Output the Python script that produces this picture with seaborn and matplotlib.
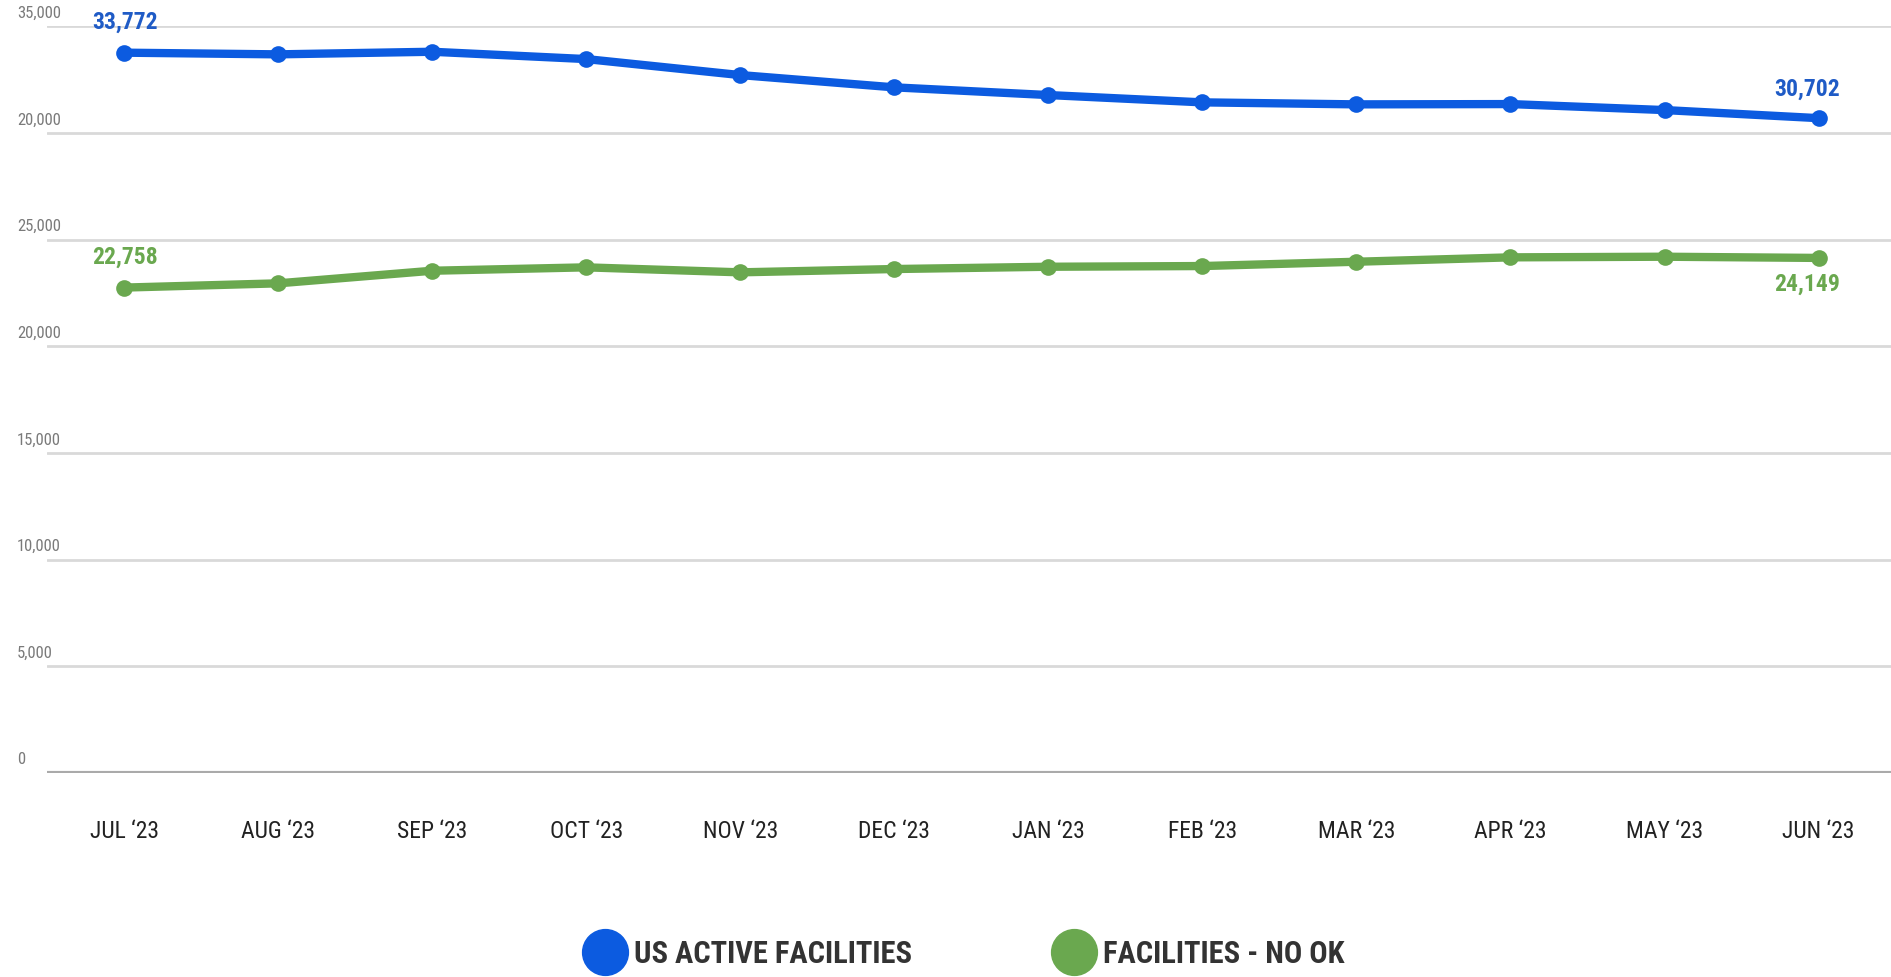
import matplotlib
matplotlib.use("Agg")
import pandas as pd
import seaborn as sns
import matplotlib.pyplot as plt
import matplotlib.transforms as mtransforms
from matplotlib.lines import Line2D

MONTHS = ["JUL \u201823", "AUG \u201823", "SEP \u201823", "OCT \u201823", "NOV \u201823", "DEC \u201823",
          "JAN \u201823", "FEB \u201823", "MAR \u201823", "APR \u201823", "MAY \u201823", "JUN \u201823"]
US_ACTIVE = [33772, 33693, 33815, 33472, 32722, 32146, 31785, 31442, 31348, 31362, 31081, 30702]
NO_OK = [22758, 22957, 23548, 23707, 23473, 23628, 23735, 23768, 23970, 24176, 24205, 24149]
SERIES = ["US ACTIVE FACILITIES", "FACILITIES - NO OK"]
Y_TICKS = [0, 5000, 10000, 15000, 20000, 25000, 30000, 35000]
Y_LABELS = ["0", "5,000", "10,000", "15,000", "20,000", "25,000", "20,000", "35,000"]

BLUE = "#0c5be0"
BLUE_TEXT = "#1f5bc6"
GREEN = "#6aa84f"
GRID = "#d9d9d9"
FONT = ["Roboto Condensed", "Liberation Sans Narrow", "DejaVu Sans"]

sns.set_style("white")
plt.rcParams["font.family"] = FONT

df = pd.concat([
    pd.DataFrame({"month": MONTHS, "value": US_ACTIVE, "series": SERIES[0]}),
    pd.DataFrame({"month": MONTHS, "value": NO_OK, "series": SERIES[1]}),
], ignore_index=True)

fig = plt.figure(figsize=(18.91, 9.77), dpi=100, facecolor="white")
ax = fig.add_axes([47 / 1891, 0.2088, 1 - 47 / 1891, 0.9729 - 0.2088])

sns.lineplot(
    data=df, x="month", y="value", hue="series",
    palette={SERIES[0]: BLUE, SERIES[1]: GREEN},
    marker="o", markersize=12, markeredgewidth=0,
    linewidth=6, sort=False, legend=False, ax=ax, zorder=3
)

ax.set_xlim(-0.5, 11.47)
ax.set_ylim(0, 35000)
for s in ax.spines.values():
    s.set_visible(False)

ax.set_yticks(Y_TICKS)
ax.set_yticklabels([])
ax.tick_params(axis="y", length=0)
ax.grid(axis="y", color=GRID, linewidth=2)
ax.axhline(0, color="#aaaaaa", linewidth=3, zorder=2)

# y labels sit above their gridlines, flush to the left edge
trans = mtransforms.blended_transform_factory(fig.transFigure, ax.transData)
for val, lab in zip(Y_TICKS, Y_LABELS):
    ax.annotate(lab, xy=(17 / 1891, val), xycoords=trans, xytext=(0, 4),
                textcoords="offset points", ha="left", va="bottom",
                fontsize=12, color="#7a7a7a")

ax.set_xticks(range(len(MONTHS)))
ax.set_xticklabels(MONTHS, fontsize=17, color="#222222")
ax.tick_params(axis="x", length=0, pad=34)
ax.set_xlabel("")
ax.set_ylabel("")

def label(i, values, color, dx, dy):
    ax.annotate(f"{values[i]:,}", xy=(i, values[i]), xytext=(dx, dy),
                textcoords="offset points", ha="center", va="center",
                fontsize=17, fontweight="bold", color=color)

label(0, US_ACTIVE, BLUE_TEXT, 1, 22)
label(11, US_ACTIVE, BLUE_TEXT, -8, 21)
label(0, NO_OK, GREEN, 1, 22)
label(11, NO_OK, GREEN, -8, -19)

handles = [Line2D([], [], marker="o", linestyle="", markersize=33, color=BLUE),
           Line2D([], [], marker="o", linestyle="", markersize=33, color=GREEN)]
leg = fig.legend(handles, SERIES, loc="center", bbox_to_anchor=(0.509, 0.024), ncol=2,
                 frameon=False, handlelength=1.6, handletextpad=0.15, columnspacing=4.5,
                 prop={"family": FONT, "weight": "bold", "size": 22})
for t in leg.get_texts():
    t.set_color("#333333")

fig.savefig("out.png", dpi=100, facecolor="white")
